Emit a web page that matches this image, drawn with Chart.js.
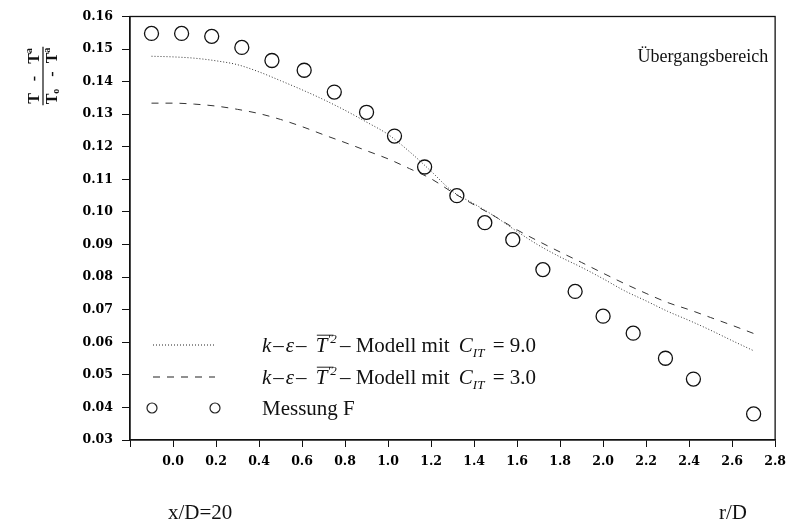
<!DOCTYPE html>
<html>
<head>
<meta charset="utf-8">
<script src="https://cdn.jsdelivr.net/npm/chart.js@4.4.0/dist/chart.umd.min.js"></script>
<style>
  html, body { margin: 0; padding: 0; background: #fff; }
  #c { display: block; }
</style>
</head>
<body>
<canvas id="c" width="793" height="527"></canvas>
<script>
// ---- data ----
const xTickLabels = ['0.0','0.2','0.4','0.6','0.8','1.0','1.2','1.4','1.6','1.8','2.0','2.2','2.4','2.6','2.8'];
const yTickLabels = ['0.03','0.04','0.05','0.06','0.07','0.08','0.09','0.10','0.11','0.12','0.13','0.14','0.15','0.16'];

const measX = [-0.10, 0.04, 0.18, 0.32, 0.46, 0.61, 0.75, 0.90, 1.03, 1.17, 1.32, 1.45, 1.58, 1.72, 1.87, 2.00, 2.14, 2.29, 2.42, 2.70];
const measY = [0.1548, 0.1548, 0.1539, 0.1505, 0.1465, 0.1435, 0.1368, 0.1306, 0.1233, 0.1138, 0.1050, 0.0967, 0.0915, 0.0823, 0.0756, 0.0680, 0.0628, 0.0551, 0.0487, 0.0380];

const modelX = [-0.1, 0.0, 0.1, 0.2, 0.3, 0.4, 0.5, 0.6, 0.7, 0.8, 0.9, 1.0, 1.1, 1.2, 1.3, 1.4, 1.5, 1.6, 1.7, 1.8, 1.9, 2.0, 2.1, 2.2, 2.3, 2.4, 2.5, 2.6, 2.7];
const model9 = [0.1478, 0.1476, 0.1472, 0.1464, 0.1452, 0.1430, 0.1403, 0.1375, 0.1345, 0.1312, 0.1276, 0.1238, 0.1185, 0.1125, 0.1063, 0.1025, 0.0985, 0.0940, 0.0898, 0.0862, 0.0830, 0.0795, 0.0758, 0.0727, 0.0695, 0.0667, 0.0637, 0.0605, 0.0574];
const model3 = [0.1334, 0.1334, 0.1331, 0.1325, 0.1315, 0.1302, 0.1284, 0.1262, 0.1237, 0.1213, 0.1188, 0.1163, 0.1133, 0.1102, 0.1060, 0.1022, 0.0985, 0.0945, 0.0910, 0.0877, 0.0845, 0.0812, 0.0780, 0.0750, 0.0722, 0.0700, 0.0676, 0.0652, 0.0627];

const regionLabel = 'Übergangsbereich';
const leftNote = 'x/D=20';
const xAxisTitle = 'r/D';

const toPts = (xs, ys) => xs.map((x, i) => ({ x: x, y: ys[i] }));

const SERIF = '"Liberation Serif", "Times New Roman", serif';
const TICKSERIF = '"DejaVu Serif", "Liberation Serif", serif';

// rich text helper
function drawRich(ctx, x, y, parts, size) {
  let cx = x;
  for (const p of parts) {
    const fs = p.small ? size * 0.62 : size;
    ctx.font = (p.i ? 'italic ' : '') + fs + 'px ' + SERIF;
    let dy = 0;
    if (p.sup) dy = -size * 0.42;
    if (p.sub) dy = size * 0.22;
    ctx.fillText(p.t, cx, y + dy);
    const w = ctx.measureText(p.t).width;
    if (p.over) {
      ctx.beginPath();
      ctx.lineWidth = 1;
      ctx.moveTo(cx + 1, y - size * 0.8);
      ctx.lineTo(cx + w + (p.overExt || 0), y - size * 0.8);
      ctx.stroke();
    }
    cx += w + (p.kern || 0);
  }
  return cx;
}

const decorPlugin = {
  id: 'decor',
  afterDraw(chart) {
    const ctx = chart.ctx;
    const a = chart.chartArea;
    ctx.save();
    // frame
    ctx.strokeStyle = '#111';
    ctx.lineWidth = 1.3;
    ctx.strokeRect(a.left, a.top, a.right - a.left, a.bottom - a.top);

    ctx.fillStyle = '#111';
    ctx.textBaseline = 'alphabetic';

    // region label
    ctx.font = '18px ' + SERIF;
    ctx.textAlign = 'right';
    ctx.fillText(regionLabel, a.right - 7, 62);

    // bottom notes
    ctx.font = '21px ' + SERIF;
    ctx.textAlign = 'left';
    ctx.fillText(leftNote, 168, 519);
    ctx.fillText(xAxisTitle, 719, 519);

    // legend
    const size = 21;
    const tx = 262;
    const rows = [345, 377, 408];
    ctx.strokeStyle = '#222';
    ctx.lineWidth = 1;
    ctx.setLineDash([1, 2]);
    ctx.beginPath(); ctx.moveTo(153, rows[0]); ctx.lineTo(215, rows[0]); ctx.stroke();
    ctx.setLineDash([7, 7]);
    ctx.beginPath(); ctx.moveTo(153, rows[1]); ctx.lineTo(215, rows[1]); ctx.stroke();
    ctx.setLineDash([]);
    ctx.lineWidth = 1.2;
    for (const cx of [152, 215]) {
      ctx.beginPath(); ctx.arc(cx, rows[2], 5, 0, Math.PI * 2);
      ctx.fillStyle = '#fff'; ctx.fill(); ctx.stroke();
    }
    ctx.fillStyle = '#111';
    ctx.textAlign = 'left';
    const modelParts = (c) => [
      { t: 'k', i: true, kern: 2 },
      { t: '\u2013', i: false, kern: 2 },
      { t: '\u03B5', i: true, kern: 2 },
      { t: '\u2013 ', i: false, kern: 4 },
      { t: 'T', i: true, over: true, overExt: 6 },
      { t: '\u20322', i: true, small: true, sup: true, kern: 3 },
      { t: '\u2013 Modell mit ', i: false, kern: 4 },
      { t: 'C', i: true },
      { t: 'IT', i: true, small: true, sub: true, kern: 3 },
      { t: ' = ' + c, i: false }
    ];
    drawRich(ctx, tx, rows[0] + 7, modelParts('9.0'), size);
    drawRich(ctx, tx, rows[1] + 7, modelParts('3.0'), size);
    ctx.font = size + 'px ' + SERIF;
    ctx.fillText('Messung F', tx, rows[2] + 7);

    // y axis label (fraction, rotated)
    ctx.translate(43, 76);
    ctx.rotate(-Math.PI / 2);
    ctx.textAlign = 'left';
    const fs = 16;
    const bold = 'bold ' + fs + 'px ' + SERIF;
    const sm = 'bold ' + Math.round(fs * 0.6) + 'px ' + SERIF;
    function frac(parts, base) {
      let w = 0;
      for (const p of parts) { ctx.font = p.s ? sm : bold; w += ctx.measureText(p.t).width; }
      let cx = -w / 2;
      for (const p of parts) {
        ctx.font = p.s ? sm : bold;
        ctx.fillText(p.t, cx, base + (p.s ? (p.up ? -fs * 0.45 : 2) : 0));
        cx += ctx.measureText(p.t).width;
      }
      return w;
    }
    const w1 = frac([{ t: 'T   -   T' }, { t: 'a', s: true, up: true }], -4);
    const w2 = frac([{ t: 'T' }, { t: 'o', s: true }, { t: '   -  T' }, { t: 'a', s: true, up: true }], 14);
    ctx.lineWidth = 1.3;
    ctx.beginPath();
    const fw = Math.max(w1, w2) / 2 + 1;
    ctx.moveTo(-fw, 0); ctx.lineTo(fw, 0); ctx.stroke();
    ctx.restore();
  }
};

const tickFont = { family: TICKSERIF, size: 12.5, weight: 'bold' };

new Chart(document.getElementById('c'), {
  type: 'scatter',
  data: {
    datasets: [
      {
        label: 'Modell C_IT = 9.0',
        data: toPts(modelX, model9),
        showLine: true,
        borderColor: '#333',
        borderWidth: 1,
        borderDash: [1, 2],
        pointRadius: 0,
        cubicInterpolationMode: 'monotone',
        fill: false
      },
      {
        label: 'Modell C_IT = 3.0',
        data: toPts(modelX, model3),
        showLine: true,
        borderColor: '#333',
        borderWidth: 1,
        borderDash: [7, 7],
        pointRadius: 0,
        cubicInterpolationMode: 'monotone',
        fill: false
      },
      {
        label: 'Messung F',
        data: toPts(measX, measY),
        showLine: false,
        pointStyle: 'circle',
        pointRadius: 7,
        pointBorderWidth: 1.3,
        pointBorderColor: '#111',
        pointBackgroundColor: '#fff'
      }
    ]
  },
  options: {
    responsive: false,
    animation: false,
    devicePixelRatio: 1,
    layout: { padding: { left: 0, right: 15, top: 15, bottom: 0 } },
    plugins: { legend: { display: false }, tooltip: { enabled: false } },
    scales: {
      x: {
        type: 'linear',
        min: -0.2,
        max: 2.8,
        afterFit(s) { s.height = 87; },
        afterBuildTicks(s) {
          s.ticks = [-0.2].concat(xTickLabels.map(Number)).map(v => ({ value: v }));
        },
        ticks: {
          color: '#000',
          font: tickFont,
          padding: 7,
          maxRotation: 0,
          autoSkip: false,
          callback: (v) => {
            const i = xTickLabels.indexOf(Number(v).toFixed(1));
            return i >= 0 ? xTickLabels[i] : '';
          }
        },
        grid: { display: true, drawOnChartArea: false, drawTicks: true, tickLength: 7, color: '#111', lineWidth: 1 },
        border: { display: true, color: '#111', width: 1.3 }
      },
      y: {
        type: 'linear',
        min: 0.03,
        max: 0.16,
        afterFit(s) { s.width = 130; },
        afterBuildTicks(s) {
          s.ticks = yTickLabels.map(Number).map(v => ({ value: v }));
        },
        ticks: {
          color: '#000',
          font: tickFont,
          padding: 9,
          autoSkip: false,
          callback: (v) => {
            const i = yTickLabels.indexOf(Number(v).toFixed(2));
            return i >= 0 ? yTickLabels[i] : '';
          }
        },
        grid: { display: true, drawOnChartArea: false, drawTicks: true, tickLength: 8, color: '#111', lineWidth: 1 },
        border: { display: true, color: '#111', width: 1.3 }
      }
    }
  },
  plugins: [decorPlugin]
});
</script>
</body>
</html>
